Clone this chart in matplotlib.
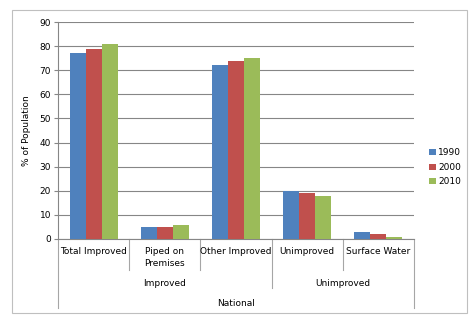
import matplotlib
matplotlib.use("Agg")
import matplotlib.pyplot as plt
import matplotlib.transforms as mtransforms
from matplotlib.patches import Rectangle
import numpy as np

# data
categories = ["Total Improved", "Piped on\nPremises", "Other Improved", "Unimproved", "Surface Water"]
groups = ["Improved", "Unimproved"]
group_spans = [(0, 2), (3, 4)]
years = ["1990", "2000", "2010"]
v1990 = [77, 5, 72, 20, 3]
v2000 = [79, 5, 74, 19, 2]
v2010 = [81, 6, 75, 18, 1]
series = [v1990, v2000, v2010]
colors = ["#4F81BD", "#C0504D", "#9BBB59"]

plt.rcParams['font.family'] = ['DejaVu Sans']
W, H = 473, 328
fig = plt.figure(figsize=(W / 100, H / 100), dpi=100)

# outer chart border
fig.patches.append(Rectangle((12 / W, 1 - 313 / H), 455 / W, 303 / H, transform=fig.transFigure,
                             fill=False, edgecolor="#BFBFBF", linewidth=0.8))

ax = fig.add_axes([58 / W, 1 - 239 / H, 356 / W, 217 / H])
x = np.arange(len(categories))
bw = 0.225
for i, (vals, c, lab) in enumerate(zip(series, colors, years)):
    ax.bar(x + (i - 1) * bw, vals, bw, color=c, label=lab, zorder=3)

ax.set_xlim(-0.5, len(categories) - 0.5)
ax.set_ylim(0, 90)
ax.set_yticks(range(0, 91, 10))
ax.yaxis.grid(True, color="#868686", linewidth=0.8, zorder=0)
ax.set_xticks([])
for s in ["top", "right"]:
    ax.spines[s].set_visible(False)
ax.spines["left"].set_color("#868686")
ax.spines["bottom"].set_color("#868686")
ax.tick_params(axis="y", length=3, color="#868686", labelsize=6.5, pad=2)
ax.set_ylabel("% of Population", fontsize=6.5, labelpad=6)

# multi-level category axis
tr = mtransforms.blended_transform_factory(ax.transData, ax.transAxes)
lc = "#A6A6A6"
for d in [0.5, 1.5, 2.5, 3.5]:
    bottom = -0.226 if d == 2.5 else -0.143
    ax.plot([d, d], [0, bottom], color=lc, lw=0.8, transform=tr, clip_on=False)
for d in [-0.5, len(categories) - 0.5]:
    ax.plot([d, d], [0, -0.318], color=lc, lw=0.8, transform=tr, clip_on=False)

for xi, cat in zip(x, categories):
    ax.text(xi, -0.035, cat, transform=tr, ha="center", va="top", fontsize=6.5, linespacing=1.5)
for g, (a, b) in zip(groups, group_spans):
    ax.text((a + b) / 2, -0.203, g, transform=tr, ha="center", va="center", fontsize=6.5)
ax.text((len(categories) - 1) / 2, -0.295, "National", transform=tr, ha="center", va="center", fontsize=6.5)

ax.legend(loc="center left", bbox_to_anchor=(1.02, 0.33), frameon=False, fontsize=6.5,
          handlelength=0.7, handleheight=0.7, handletextpad=0.3, labelspacing=0.6)

fig.savefig("out.png", dpi=100)
